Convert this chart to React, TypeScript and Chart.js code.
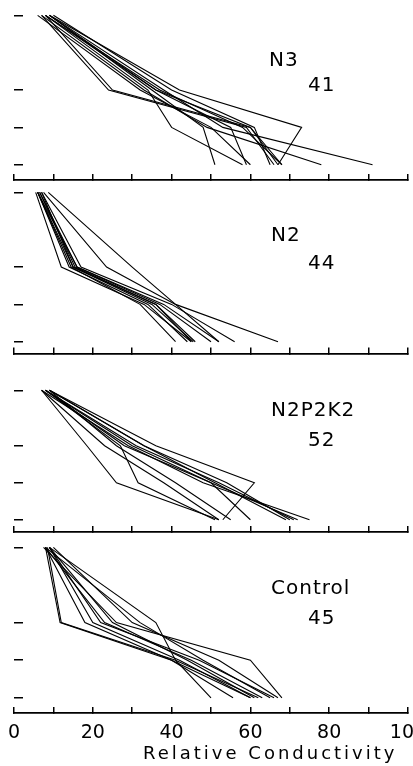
import React, { useEffect, useRef } from 'react';
import { Chart, registerables } from 'chart.js';

Chart.register(...registerables);

// ---------- data ----------
const xTickValues = [0, 10, 20, 30, 40, 50, 60, 70, 80, 90, 100];
const xTickLabels = ['0', '', '20', '', '40', '', '60', '', '80', '', '100'];
const xAxisTitle = 'Relative Conductivity';

const treatmentNames = ['N3', 'N2', 'N2P2K2', 'Control'];
const sampleCounts = ['41', '44', '52', '45'];

// depth levels (relative units, top = 0)
const depthN3 = [0, 2, 3, 4];
const depthN2 = [0, 2, 3, 4];
const depthN2P2K2 = [0, 1.5, 2.5, 3.5];
const depthControl = [0, 2, 3, 4];

// relative conductivity of each profile at the depth levels
const profilesN3 = [
  [7, 24, 59, 66],
  [8, 25, 60, 68],
  [8, 34, 40, 58],
  [9, 35, 48, 51],
  [8, 36, 55, 59],
  [9, 36, 60, 67],
  [7, 33, 49, 78],
  [9, 38, 53, 91],
  [9, 42, 73, 67],
  [10, 40, 61, 65],
  [6, 32, 50, 60],
  [8, 37, 58, 68],
];

const profilesN2 = [
  [7.5, 23.5, 41, 67],
  [8.7, 30, 41, 52],
  [5.5, 12, 33, 45],
  [6, 14, 34, 44],
  [6, 15, 35, 45.5],
  [6.5, 15.5, 36, 46],
  [6, 16, 37, 50],
  [7, 17, 40, 56],
  [6, 14.5, 32, 41],
  [6.5, 16, 38, 52],
  [7, 15, 36, 45],
];

const profilesN2P2K2 = [
  [7, 18.5, 26, 52],
  [8, 27, 31.5, 51],
  [9, 36, 61, 53],
  [8, 30, 50, 72],
  [8, 31, 52, 71],
  [9, 33, 54, 70],
  [7, 29, 48, 75],
  [8, 28, 50, 60],
  [9, 26, 41, 55],
  [9, 33, 51, 69],
  [7, 23, 38, 52],
];

const profilesControl = [
  [8, 11.7, 40, 60],
  [8.5, 12, 41, 62],
  [8, 18, 40, 55.6],
  [9, 20, 42, 60],
  [9, 22, 47, 66],
  [8, 23, 45, 63],
  [9, 36, 41, 50],
  [7.5, 26, 60, 68],
  [10, 30, 52, 67],
  [9, 25, 44, 61],
  [8, 32, 48, 65],
];

// ---------- layout ----------
const FONT = "'DejaVu Sans', sans-serif";
const CANVAS_W = 440;
const PLOT_LEFT = 14;
const PLOT_RIGHT_PAD = 32;
const PAGE_H = 766;
const Y_MIN = -0.25;
const X_AXIS_H_BOTTOM = 32;

type PanelDef = {
  name: string;
  count: string;
  depths: number[];
  profiles: number[][];
  level0Px: number;
  unit: number;
  axisPx: number;
  nameTop: number;
  countTop: number;
  nameLeft: number;
  bottom: boolean;
};

const panels: PanelDef[] = [
  { name: treatmentNames[0], count: sampleCounts[0], depths: depthN3, profiles: profilesN3, level0Px: 15.3, unit: 37.35, axisPx: 180, nameTop: 51, countTop: 76, nameLeft: 269, bottom: false },
  { name: treatmentNames[1], count: sampleCounts[1], depths: depthN2, profiles: profilesN2, level0Px: 192.3, unit: 37.35, axisPx: 353.5, nameTop: 226, countTop: 254, nameLeft: 271, bottom: false },
  { name: treatmentNames[2], count: sampleCounts[2], depths: depthN2P2K2, profiles: profilesN2P2K2, level0Px: 390.3, unit: 37.0, axisPx: 532, nameTop: 401, countTop: 431, nameLeft: 271, bottom: false },
  { name: treatmentNames[3], count: sampleCounts[3], depths: depthControl, profiles: profilesControl, level0Px: 547.3, unit: 37.6, axisPx: 713, nameTop: 579, countTop: 609, nameLeft: 271, bottom: true },
];

function PanelChart({ p }: { p: PanelDef }) {
  const ref = useRef<HTMLCanvasElement>(null);
  const chartTopPx = p.level0Px + Y_MIN * p.unit;
  const padTop = 6;
  const cssTop = chartTopPx - padTop;
  const canvasH = Math.round(p.bottom ? PAGE_H - cssTop : p.axisPx + 5 - cssTop);
  const axisH = p.bottom ? X_AXIS_H_BOTTOM : 0;
  const padBottom = canvasH - (p.axisPx - cssTop) - axisH;
  const yMax = (p.axisPx - p.level0Px) / p.unit;

  useEffect(() => {
    const canvas = ref.current;
    if (!canvas) return;
    const chart = new Chart(canvas, {
      type: 'line',
      data: {
        datasets: p.profiles.map((vals, k) => ({
          label: `${p.name} ${k + 1}`,
          data: vals.map((v, i) => ({ x: v, y: p.depths[i] })),
          borderColor: '#000',
          backgroundColor: '#000',
          borderWidth: 1.1,
          pointRadius: 0,
          tension: 0,
          fill: false,
        })),
      },
      options: {
        animation: false,
        responsive: false,
        events: [],
        layout: { padding: { top: padTop, bottom: padBottom, left: PLOT_LEFT, right: PLOT_RIGHT_PAD } },
        plugins: {
          legend: { display: false },
          tooltip: { enabled: false },
          title: { display: false },
        },
        scales: {
          x: {
            type: 'linear',
            position: 'bottom',
            min: xTickValues[0],
            max: xTickValues[xTickValues.length - 1],
            afterBuildTicks: (s: any) => {
              s.ticks = xTickValues.map((v) => ({ value: v }));
            },
            ticks: {
              display: p.bottom,
              autoSkip: false,
              maxRotation: 0,
              padding: 15,
              color: '#000',
              font: { family: FONT, size: 19 },
              callback: (_v: any, i: number) => xTickLabels[i],
            },
            grid: {
              drawOnChartArea: false,
              drawTicks: true,
              tickLength: -6,
              color: '#000',
              lineWidth: 1.5,
            },
            border: { display: true, color: '#000', width: 1.8 },
            afterFit: (s: any) => {
              s.height = axisH;
              s.paddingLeft = 0;
              s.paddingRight = 0;
            },
          },
          y: {
            type: 'linear',
            position: 'left',
            reverse: true,
            min: Y_MIN,
            max: yMax,
            afterBuildTicks: (s: any) => {
              s.ticks = p.depths.map((v) => ({ value: v }));
            },
            ticks: { display: false },
            grid: {
              drawOnChartArea: false,
              drawTicks: true,
              tickLength: -9,
              color: '#000',
              lineWidth: 1.5,
            },
            border: { display: false },
            afterFit: (s: any) => {
              s.width = 0;
            },
          },
        },
      } as any,
    });
    return () => chart.destroy();
  }, []);

  const labelStyle: React.CSSProperties = {
    position: 'absolute',
    fontFamily: FONT,
    fontSize: 20,
    lineHeight: '20px',
    letterSpacing: '1px',
    color: '#000',
    whiteSpace: 'nowrap',
  };

  return (
    <>
      <canvas
        ref={ref}
        width={CANVAS_W}
        height={canvasH}
        style={{ position: 'absolute', left: 0, top: cssTop, width: CANVAS_W, height: canvasH }}
      />
      <div style={{ ...labelStyle, left: p.nameLeft, top: p.nameTop - 2.3 }}>{p.name}</div>
      <div style={{ ...labelStyle, left: 308, top: p.countTop - 2.3 }}>{p.count}</div>
    </>
  );
}

export default function App() {
  return (
    <div
      style={{
        position: 'absolute',
        left: 0,
        top: 0,
        width: 413,
        height: PAGE_H,
        overflow: 'hidden',
        background: '#fff',
      }}
    >
      {panels.map((p) => (
        <PanelChart key={p.name} p={p} />
      ))}
      <div
        style={{
          position: 'absolute',
          left: 143,
          top: 744,
          fontFamily: FONT,
          fontSize: 18,
          lineHeight: '18px',
          letterSpacing: '3px',
          color: '#000',
          whiteSpace: 'nowrap',
        }}
      >
        {xAxisTitle}
      </div>
    </div>
  );
}
